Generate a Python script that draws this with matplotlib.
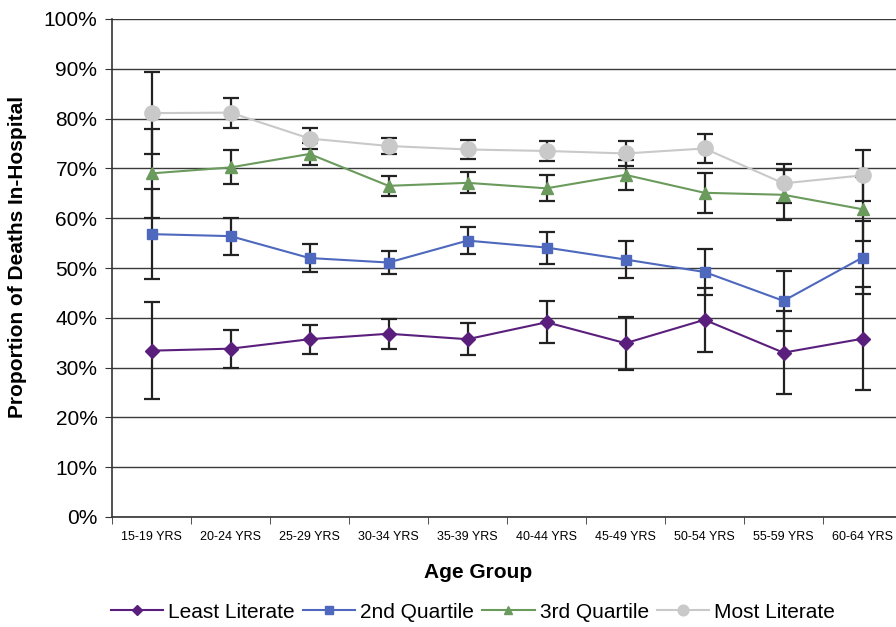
import matplotlib.pyplot as plt
import numpy as np
from matplotlib.lines import Line2D

plt.rcParams['font.family'] = ['Liberation Sans', 'DejaVu Sans']

# age groups on the x axis
age_groups = ['15-19 YRS', '20-24 YRS', '25-29 YRS', '30-34 YRS', '35-39 YRS',
              '40-44 YRS', '45-49 YRS', '50-54 YRS', '55-59 YRS', '60-64 YRS']

# proportion of deaths in hospital (%) and half-width of the error bars
least_literate = [33.4, 33.8, 35.7, 36.8, 35.7, 39.1, 34.9, 39.6, 33.0, 35.8]
least_err = [9.7, 3.8, 2.9, 3.0, 3.2, 4.2, 5.3, 6.4, 8.3, 10.3]
quartile2 = [56.8, 56.4, 52.0, 51.1, 55.5, 54.1, 51.7, 49.2, 43.4, 52.1]
quartile2_err = [9.1, 3.7, 2.8, 2.4, 2.7, 3.2, 3.8, 4.6, 6.0, 7.3]
quartile3 = [69.0, 70.2, 72.9, 66.5, 67.1, 66.0, 68.7, 65.1, 64.7, 61.8]
quartile3_err = [8.9, 3.4, 2.3, 2.0, 2.1, 2.6, 3.0, 4.0, 5.0, 6.4]
most_literate = [81.1, 81.2, 76.0, 74.5, 73.8, 73.5, 73.0, 74.0, 67.0, 68.6]
most_err = [8.2, 3.0, 2.2, 1.7, 1.9, 2.0, 2.6, 3.0, 3.9, 5.1]

series = [
    ('Least Literate', least_literate, least_err, '#5a1f7d', 'D', 7),
    ('2nd Quartile', quartile2, quartile2_err, '#4d68bd', 's', 7.5),
    ('3rd Quartile', quartile3, quartile3_err, '#6a9a5c', '^', 8.5),
    ('Most Literate', most_literate, most_err, '#c9c9c9', 'o', 11),
]

fig = plt.figure(figsize=(8.96, 6.27), dpi=100)
# the plot area runs a little past the right edge of the figure
ax = fig.add_axes([112 / 896, 1 - 517 / 627, 790 / 896, 498 / 627])

x = np.arange(len(age_groups))
for name, vals, err, color, marker, ms in series:
    ax.errorbar(x, vals, yerr=err, color=color, lw=1.5, marker=marker,
                ms=ms, mfc=color, mec=color, ecolor='#222222',
                elinewidth=1.6, capsize=5.5, capthick=1.6, label=name,
                zorder=3)

ax.set_xlim(-0.5, len(age_groups) - 0.5)
ax.set_ylim(0, 100)
ax.set_yticks(np.arange(0, 101, 10))
ax.set_yticklabels(['%d%%' % v for v in range(0, 101, 10)], fontsize=15)
ax.yaxis.grid(True, color='#3a3a3a', lw=1.0)
ax.set_axisbelow(True)

ax.set_xticks(x)
ax.set_xticklabels(age_groups, fontsize=9)
ax.set_xticks(np.arange(-0.5, len(age_groups)), minor=True)
ax.tick_params(axis='x', which='major', length=0, pad=10)
ax.tick_params(axis='x', which='minor', length=5, color='#333333')
ax.tick_params(axis='y', length=5, color='#333333', pad=5.5)

for side in ['top', 'right']:
    ax.spines[side].set_visible(False)
for side in ['left', 'bottom']:
    ax.spines[side].set_color('#333333')
    ax.spines[side].set_linewidth(1.2)

fig.text(17.5 / 896, 1 - 257 / 627, 'Proportion of Deaths In-Hospital',
         rotation=90, ha='center', va='center', fontsize=15, fontweight='bold')
fig.text(478 / 896, 1 - 573 / 627, 'Age Group', ha='center', va='center',
         fontsize=15, fontweight='bold')

# legend shows lines with markers only, no error bars
leg_handles = [Line2D([], [], color=c, marker=m, ms=ms * 0.7, lw=1.5)
               for _, _, _, c, m, ms in series]
fig.legend(leg_handles, [s[0] for s in series], loc='center',
           bbox_to_anchor=(473 / 896, 1 - 612 / 627), ncol=4, frameon=False,
           fontsize=15, handlelength=2.5, handletextpad=0.25,
           columnspacing=0.4)

fig.savefig('out.png', dpi=100)
